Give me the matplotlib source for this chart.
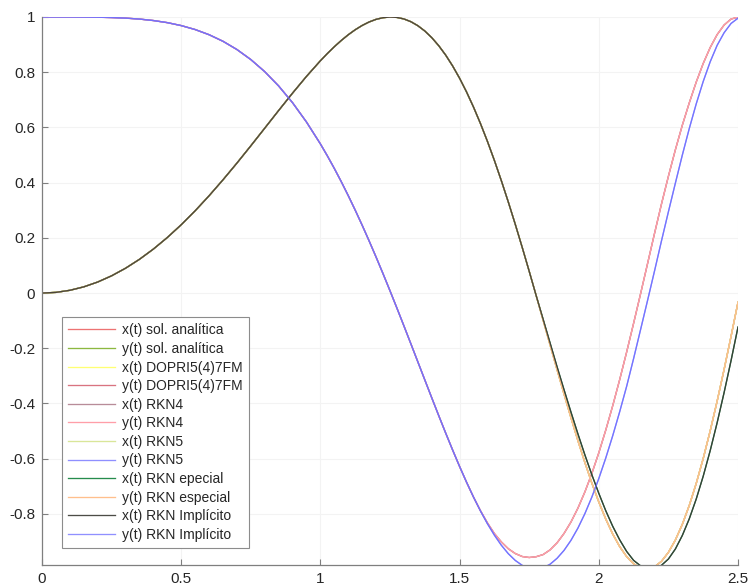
import numpy as np
import matplotlib
matplotlib.use('Agg')
import matplotlib.pyplot as plt

plt.rcParams['font.family'] = ['Liberation Sans', 'DejaVu Sans']

# sample times
t = [0.0, 0.05, 0.1, 0.15, 0.2, 0.25, 0.3, 0.35, 0.4, 0.45, 0.5, 0.55, 0.6, 0.65,
     0.7, 0.75, 0.8, 0.85, 0.9, 0.95, 1.0,
     1.025, 1.05, 1.075, 1.1, 1.125, 1.15, 1.175, 1.2, 1.225, 1.25, 1.275, 1.3,
     1.325, 1.35, 1.375, 1.4, 1.425, 1.45, 1.475, 1.5, 1.525,
     1.55, 1.575, 1.6, 1.625, 1.65, 1.675, 1.7, 1.725, 1.75, 1.775, 1.8, 1.825,
     1.85, 1.875, 1.9, 1.925, 1.95, 1.975, 2.0, 2.025, 2.05, 2.075, 2.1, 2.125,
     2.15, 2.175, 2.2, 2.225, 2.25, 2.275, 2.3, 2.325, 2.35, 2.375, 2.4, 2.425,
     2.45, 2.475, 2.5]

# common part of every curve up to t = 1.525
x_head = [1.0, 1.0, 1.0, 0.9997, 0.9992, 0.998, 0.996, 0.9925, 0.9872, 0.9796,
          0.9689, 0.9546, 0.9359, 0.9121, 0.8823, 0.8459, 0.8021, 0.7502, 0.6895,
          0.6196, 0.5403,
          0.4970, 0.4514, 0.4034, 0.3530, 0.3005, 0.2458, 0.1890, 0.1304, 0.0701,
          0.0083, -0.0548, -0.1189, -0.1838, -0.2491, -0.3144, -0.3795, -0.4438,
          -0.5070, -0.5686, -0.6282, -0.6852]
y_head = [0.0, 0.0025, 0.0100, 0.0225, 0.0400, 0.0625, 0.0899, 0.1222, 0.1593,
          0.2011, 0.2474, 0.2979, 0.3523, 0.4101, 0.4706, 0.5333, 0.5972, 0.6613,
          0.7243, 0.7849, 0.8415,
          0.8677, 0.8923, 0.9150, 0.9356, 0.9538, 0.9693, 0.9820, 0.9915, 0.9975,
          1.0000, 0.9985, 0.9929, 0.9830, 0.9685, 0.9493, 0.9252, 0.8961, 0.8620,
          0.8226, 0.7781, 0.7284]

# tails from t = 1.55, where the solutions separate
x_red_tail = [-0.7391, -0.7884, -0.8326, -0.8711, -0.9015, -0.9261, -0.9435, -0.9543,
              -0.9579, -0.9550, -0.9472, -0.9302, -0.9048, -0.8709, -0.8293, -0.7791,
              -0.7204, -0.6535, -0.5786, -0.4963, -0.4081, -0.3136, -0.2138, -0.1095,
              -0.0028, 0.1062, 0.2153, 0.3220, 0.4230, 0.5189, 0.6080, 0.6890,
              0.7644, 0.8316, 0.8892, 0.9361, 0.9709, 0.9926, 0.9995]
x_blue_tail = [-0.7391, -0.7894, -0.8356, -0.8771, -0.9135, -0.9441, -0.9685, -0.9863,
               -0.9969, -1.0000, -0.9952, -0.9822, -0.9608, -0.9322, -0.8957, -0.8513,
               -0.7990, -0.7391, -0.6718, -0.5975, -0.5167, -0.4299, -0.3379, -0.2372,
               -0.1326, -0.0274, 0.0793, 0.1884, 0.2944, 0.3980, 0.4998, 0.5961,
               0.6855, 0.7664, 0.8375, 0.8973, 0.9429, 0.9766, 0.9957]
y_yel_tail = [0.6736, 0.6139, 0.5494, 0.4803, 0.4069, 0.3297, 0.2490, 0.1652, 0.0790,
              -0.0090, -0.0983, -0.1879, -0.2772, -0.3654, -0.4515, -0.5346, -0.6138,
              -0.6882, -0.7568, -0.8186, -0.8728, -0.9184, -0.9546, -0.9807, -0.9960,
              -0.9998, -0.9919, -0.9718, -0.9393, -0.8946, -0.8378, -0.7692, -0.6894,
              -0.5993, -0.4996, -0.3918, -0.2770, -0.1569, -0.0332]
y_blk_tail = [0.6736, 0.6139, 0.5494, 0.4803, 0.4069, 0.3297, 0.2490, 0.1652, 0.0790,
              -0.0090, -0.0947, -0.1807, -0.2666, -0.3497, -0.4311, -0.5102, -0.5861,
              -0.6581, -0.7254, -0.7884, -0.8448, -0.8938, -0.9359, -0.9682, -0.9880,
              -0.9989, -0.9982, -0.9862, -0.9633, -0.9271, -0.8780, -0.8176, -0.7459,
              -0.6635, -0.5712, -0.4699, -0.3608, -0.2449, -0.1231]

x_red = x_head + x_red_tail
x_blue = x_head + x_blue_tail
y_yel = y_head + y_yel_tail
y_blk = y_head + y_blk_tail

labels = ['x(t) sol. analítica', 'y(t) sol. analítica',
          'x(t) DOPRI5(4)7FM', 'y(t) DOPRI5(4)7FM',
          'x(t) RKN4', 'y(t) RKN4', 'x(t) RKN5', 'y(t) RKN5',
          'x(t) RKN epecial', 'y(t) RKN especial',
          'x(t) RKN Implícito', 'y(t) RKN Implícito']
series = [x_red, y_yel, y_yel, y_yel, x_red, x_red, y_yel, x_blue,
          y_blk, y_yel, y_blk, x_blue]
colors = [(0.93, 0.45, 0.45), (0.55, 0.72, 0.25), (1.0, 1.0, 0.45), (0.85, 0.45, 0.5),
          (0.72, 0.55, 0.6), (1.0, 0.62, 0.66), (0.85, 0.9, 0.6), (0.45, 0.45, 1.0),
          (0.15, 0.55, 0.3), (1.0, 0.75, 0.55), (0.22, 0.22, 0.2), (0.42, 0.42, 1.0)]
alphas = [1, 1, 1, 1, 1, 1, 1, 0.8, 1, 1, 0.9, 0.75]

xticks = [0, 0.5, 1, 1.5, 2, 2.5]
xtick_labels = ['0', '0.5', '1', '1.5', '2', '2.5']
yticks = [-0.8, -0.6, -0.4, -0.2, 0, 0.2, 0.4, 0.6, 0.8, 1]
ytick_labels = ['-0.8', '-0.6', '-0.4', '-0.2', '0', '0.2', '0.4', '0.6', '0.8', '1']

fig = plt.figure(figsize=(7.51, 5.88), dpi=100)
ax = fig.add_axes([42 / 751, 23 / 588, 696 / 751, 548 / 588])

for vals, c, a, lab in zip(series, colors, alphas, labels):
    ax.plot(t, vals, color=c, alpha=a, lw=0.95, label=lab)

ax.set_xlim(0, 2.5)
ax.set_ylim(-0.985, 1)
ax.set_xticks(xticks)
ax.set_xticklabels(xtick_labels)
ax.set_yticks(yticks)
ax.set_yticklabels(ytick_labels)
ax.grid(True, color='#f3f3f3', lw=0.8)
ax.set_axisbelow(True)

for s in ['top', 'right']:
    ax.spines[s].set_visible(False)
for s in ['left', 'bottom']:
    ax.spines[s].set_color('#7f7f7f')
    ax.spines[s].set_linewidth(0.9)
ax.tick_params(direction='in', length=4, width=0.8, color='#7f7f7f',
               labelsize=11, labelcolor='#262626', pad=5)

leg = ax.legend(loc='lower left', bbox_to_anchor=(0.0287, 0.031), borderaxespad=0,
                fontsize=10, labelspacing=0.33, handlelength=3.4, handletextpad=0.5,
                borderpad=0.45, fancybox=False, framealpha=1, edgecolor='#8c8c8c')
leg.get_frame().set_linewidth(0.8)
for txt in leg.get_texts():
    txt.set_color('#262626')

plt.savefig('out.png', dpi=100)
